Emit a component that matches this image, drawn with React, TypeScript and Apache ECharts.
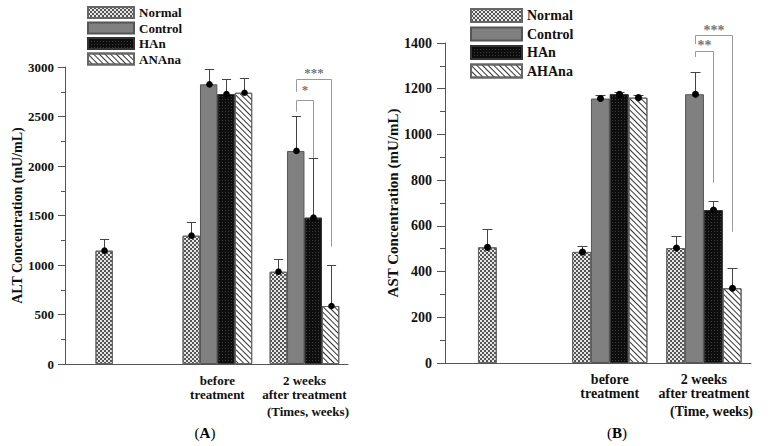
import React, { useEffect, useRef } from 'react';
import * as echarts from 'echarts';

// ---------- data ----------
const groupX = [0, 1, 2];
const timeLabels = ['', 'before\ntreatment', '2 weeks\nafter treatment'];

// Panel A (ALT)
const altNames = ['Normal', 'Control', 'HAn', 'ANAna'];
const altNormal = [1145, 1296, 932];
const altNormalSd = [120, 135, 126];
const altControl = [null, 2825, 2152];
const altControlSd = [null, 155, 353];
const altHAn = [null, 2727, 1478];
const altHAnSd = [null, 155, 603];
const altANAna = [null, 2740, 586];
const altANAnaSd = [null, 152, 417];
const altYTicks = [0, 500, 1000, 1500, 2000, 2500, 3000];

const altSigLabels = ['*', '***'];
const altSigFrom = [1, 1];
const altSigTo = [2, 3];
const altSigTop = [2667, 2876];
const altSigLeftEnd = [2548, 2750];
const altSigRightEnd = [2081, 1185];
const altSigLabelY = [2768, 2946];

// Panel B (AST)
const astNames = ['Normal', 'Control', 'HAn', 'AHAna'];
const astNormal = [506, 486, 503];
const astNormalSd = [80, 25, 52];
const astControl = [null, 1157, 1176];
const astControlSd = [null, 14, 95];
const astHAn = [null, 1176, 669];
const astHAnSd = [null, 10, 41];
const astAHAna = [null, 1161, 327];
const astAHAnaSd = [null, 13, 90];
const astYTicks = [0, 200, 400, 600, 800, 1000, 1200, 1400];

const astSigLabels = ['**', '***'];
const astSigFrom = [1, 1];
const astSigTo = [2, 3];
const astSigTop = [1364, 1435];
const astSigLeftEnd = [1339, 1396];
const astSigRightEnd = [788, 574];
const astSigLabelY = [1391, 1454];

// ---------- styles ----------
const FONT = "'Liberation Serif', 'Times New Roman', serif";
const BAR_FRACTION = 0.2;

const barStyles: any[] = [
  {
    color: '#e6e6e6',
    borderColor: '#666',
    borderWidth: 1,
    decal: {
      symbol: 'rect',
      symbolSize: 1,
      color: '#555',
      dashArrayX: [[2, 2], [0, 2, 2, 0]],
      dashArrayY: [2, 0],
    },
  },
  { color: '#808080', borderColor: '#555', borderWidth: 1 },
  {
    color: '#0e0e0e',
    borderColor: '#333',
    borderWidth: 1,
    decal: {
      symbol: 'rect',
      symbolSize: 1,
      color: '#3c3c3c',
      dashArrayX: [1, 2],
      dashArrayY: [1, 2],
    },
  },
  {
    color: '#ffffff',
    borderColor: '#666',
    borderWidth: 1,
    decal: {
      symbol: 'rect',
      symbolSize: 1,
      color: '#333',
      dashArrayX: [1, 0],
      dashArrayY: [1, 3],
      rotation: Math.PI / 4,
    },
  },
];

function buildPanel(
  idx: number,
  names: string[],
  means: (number | null)[][],
  sds: (number | null)[][],
  sig: { labels: string[]; from: number[]; to: number[]; top: number[]; le: number[]; re: number[]; ly: number[] },
  capHalf: number,
  dotR: number,
  starSize: number
) {
  const series: any[] = [];
  names.forEach((name, s) => {
    series.push({
      type: 'bar',
      name,
      xAxisIndex: idx,
      yAxisIndex: idx,
      barWidth: BAR_FRACTION * 100 + '%',
      barGap: '0%',
      itemStyle: barStyles[s],
      emphasis: { disabled: true },
      data: groupX
        .map((x, i) => (means[s][i] == null ? null : [x, means[s][i]]))
        .filter((d) => d !== null),
    });
  });

  const errRows: number[][] = [];
  names.forEach((_, s) => {
    groupX.forEach((x, i) => {
      const m = means[s][i];
      const sd = sds[s][i];
      if (m != null && sd != null) errRows.push([x, s, m, sd]);
    });
  });
  const nSeries = names.length;

  series.push({
    type: 'custom',
    xAxisIndex: idx,
    yAxisIndex: idx,
    z: 5,
    silent: true,
    clip: false,
    encode: { x: 0, y: 2 },
    data: errRows,
    renderItem: (params: any, api: any) => {
      const x = api.value(0);
      const s = api.value(1);
      const m = api.value(2);
      const sd = api.value(3);
      const bw = api.size([1, 0])[0] * BAR_FRACTION;
      const c = api.coord([x, m]);
      const t = api.coord([x, m + sd]);
      const cx = Math.round(c[0] + (s - (nSeries - 1) / 2) * bw) + 0.5;
      const ty = Math.round(t[1]) + 0.5;
      const stroke = { stroke: '#444', lineWidth: 1 };
      return {
        type: 'group',
        children: [
          { type: 'line', shape: { x1: cx, y1: c[1], x2: cx, y2: ty }, style: stroke },
          { type: 'line', shape: { x1: cx - capHalf, y1: ty, x2: cx + capHalf, y2: ty }, style: stroke },
          { type: 'circle', shape: { cx, cy: c[1], r: dotR }, style: { fill: '#000' } },
        ],
      };
    },
  });

  const sigRows = sig.labels.map((_, k) => [
    groupX[2],
    sig.from[k],
    sig.to[k],
    sig.top[k],
    sig.le[k],
    sig.re[k],
    sig.ly[k],
  ]);

  series.push({
    type: 'custom',
    xAxisIndex: idx,
    yAxisIndex: idx,
    z: 6,
    silent: true,
    clip: false,
    encode: { x: 0, y: 3 },
    data: sigRows,
    renderItem: (params: any, api: any) => {
      const g = api.value(0);
      const from = api.value(1);
      const to = api.value(2);
      const bw = api.size([1, 0])[0] * BAR_FRACTION;
      const base = api.coord([g, api.value(3)]);
      const half = (nSeries - 1) / 2;
      const x1 = Math.round(base[0] + (from - half) * bw) + 0.5;
      const x2 = Math.round(base[0] + (to - half) * bw) + 0.5;
      const yTop = Math.round(base[1]) + 0.5;
      const yL = api.coord([g, api.value(4)])[1];
      const yR = api.coord([g, api.value(5)])[1];
      const yLab = api.coord([g, api.value(6)])[1];
      return {
        type: 'group',
        children: [
          {
            type: 'polyline',
            shape: { points: [[x1, yL], [x1, yTop], [x2, yTop], [x2, yR]] },
            style: { stroke: '#9a9a9a', lineWidth: 1, fill: 'none' },
          },
          {
            type: 'text',
            x: (x1 + x2) / 2,
            y: yLab,
            style: {
              text: sig.labels[params.dataIndex],
              fill: '#777',
              font: 'bold ' + starSize + 'px ' + FONT,
              align: 'center',
              verticalAlign: 'middle',
            },
          },
        ],
      };
    },
  });

  return series;
}

export default function App() {
  const ref = useRef<HTMLDivElement>(null);

  useEffect(() => {
    if (!ref.current) return;
    const chart = echarts.init(ref.current, null, { renderer: 'svg' });

    const axisColor = '#555';
    const labelStyle = (size: number) => ({ fontFamily: FONT, fontWeight: 'bold', fontSize: size, color: '#111' });

    const makeX = (gridIndex: number, size: number) => ({
      type: 'value',
      gridIndex,
      min: -0.75,
      max: 2.5,
      splitLine: { show: false },
      axisTick: { show: false },
      axisLine: { show: true, onZero: false, lineStyle: { color: axisColor, width: 1 } },
      axisLabel: {
        customValues: [groupX[1], groupX[2]],
        formatter: (v: number) => timeLabels[Math.round(v)] || '',
        ...labelStyle(size),
        lineHeight: 14,
        margin: 9,
      },
    });

    const makeY = (gridIndex: number, ticks: number[], name: string, size: number, gap: number, tick: number) => ({
      type: 'value',
      gridIndex,
      min: ticks[0],
      max: ticks[ticks.length - 1],
      interval: ticks[1] - ticks[0],
      name,
      nameLocation: 'middle',
      nameGap: gap,
      nameTextStyle: { fontFamily: FONT, fontWeight: 'bold', fontSize: size + 1, color: '#111' },
      splitLine: { show: false },
      axisLine: { show: true, onZero: false, lineStyle: { color: axisColor, width: 1 } },
      axisTick: { show: true, length: tick, lineStyle: { color: axisColor } },
      minorTick: { show: true, splitNumber: 2, length: Math.round(tick * 0.62), lineStyle: { color: axisColor } },
      axisLabel: { ...labelStyle(size), margin: Math.round(tick * 1.6), formatter: (v: number) => String(v) },
    });

    const seriesA = buildPanel(
      0,
      altNames,
      [altNormal, altControl, altHAn, altANAna],
      [altNormalSd, altControlSd, altHAnSd, altANAnaSd],
      { labels: altSigLabels, from: altSigFrom, to: altSigTo, top: altSigTop, le: altSigLeftEnd, re: altSigRightEnd, ly: altSigLabelY },
      4.6,
      3.3,
      13
    );
    const seriesB = buildPanel(
      1,
      astNames,
      [astNormal, astControl, astHAn, astAHAna],
      [astNormalSd, astControlSd, astHAnSd, astAHAnaSd],
      { labels: astSigLabels, from: astSigFrom, to: astSigTo, top: astSigTop, le: astSigLeftEnd, re: astSigRightEnd, ly: astSigLabelY },
      5,
      3.5,
      14
    );

    const legendText = (size: number) => ({ fontFamily: FONT, fontWeight: 'bold', fontSize: size, color: '#111', lineHeight: 12 });

    chart.setOption({
      animation: false,
      backgroundColor: '#ffffff',
      grid: [
        { left: 65, top: 67, width: 283, height: 297 },
        { left: 445, top: 43, width: 306, height: 320 },
      ],
      xAxis: [makeX(0, 13), makeX(1, 14)],
      yAxis: [
        makeY(0, altYTicks, 'ALT Concentration (mU/mL)', 13, 31, 7),
        makeY(1, astYTicks, 'AST Concentration (mU/mL)', 14, 34, 8),
      ],
      legend: [
        {
          left: 87,
          top: 6,
          orient: 'vertical',
          icon: 'rect',
          itemWidth: 46,
          itemHeight: 11,
          itemGap: 2.5,
          padding: 0,
          selectedMode: false,
          data: altNames,
          textStyle: legendText(13),
        },
        {
          left: 470,
          top: 8,
          orient: 'vertical',
          icon: 'rect',
          itemWidth: 51,
          itemHeight: 13,
          itemGap: 3.5,
          padding: 0,
          selectedMode: false,
          data: astNames,
          textStyle: legendText(14),
        },
      ],
      graphic: [
        {
          type: 'text',
          x: 349,
          y: 411,
          style: { text: '(Times, weeks)', font: 'bold 13px ' + FONT, fill: '#111', align: 'right', verticalAlign: 'middle' },
        },
        {
          type: 'text',
          x: 753,
          y: 411,
          style: { text: '(Time, weeks)', font: 'bold 14px ' + FONT, fill: '#111', align: 'right', verticalAlign: 'middle' },
        },
        {
          type: 'text',
          x: 205,
          y: 433,
          style: {
            text: '{n|(}{b|A}{n|)}',
            align: 'center',
            verticalAlign: 'middle',
            rich: {
              n: { fontFamily: FONT, fontSize: 15, color: '#111' },
              b: { fontFamily: FONT, fontSize: 15, fontWeight: 'bold', color: '#111' },
            },
          },
        },
        {
          type: 'text',
          x: 617,
          y: 433,
          style: {
            text: '{n|(}{b|B}{n|)}',
            align: 'center',
            verticalAlign: 'middle',
            rich: {
              n: { fontFamily: FONT, fontSize: 15, color: '#111' },
              b: { fontFamily: FONT, fontSize: 15, fontWeight: 'bold', color: '#111' },
            },
          },
        },
      ],
      series: [...seriesA, ...seriesB],
    });

    return () => chart.dispose();
  }, []);

  return (
    <div
      ref={ref}
      style={{ position: 'fixed', left: 0, top: 0, width: 772, height: 446, background: '#fff' }}
    />
  );
}
